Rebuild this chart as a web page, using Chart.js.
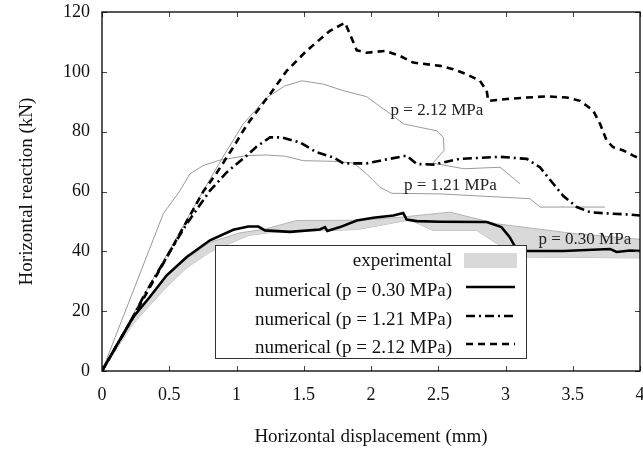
<!DOCTYPE html>
<html>
<head>
<meta charset="utf-8">
<script src="https://cdn.jsdelivr.net/npm/chart.js@4.4.1/dist/chart.umd.min.js"></script>
<style>
  html, body { margin: 0; padding: 0; background: #fff; }
</style>
</head>
<body>
<canvas id="myChart" width="643" height="457"></canvas>
<script>
// Horizontal displacement (mm) vs horizontal reaction (kN), [x, y] pairs
const num030 = [[0, 0], [0.1, 7.9], [0.233, 18.1], [0.357, 24.8], [0.481, 32], [0.63, 38.1], [0.803, 43.7],
    [0.976, 47.2], [1.088, 48.3], [1.162, 48.3], [1.212, 47], [1.398, 46.5], [1.62, 47.3], [1.658, 48.1],
    [1.675, 46.8], [1.77, 48.1], [1.894, 50.3], [2.017, 51.2], [2.166, 52], [2.24, 52.8], [2.265, 50.6],
    [2.34, 50.1], [2.513, 49.9], [2.86, 49.8], [2.97, 48.1], [3.03, 44.8], [3.08, 40.9], [3.13, 40.1],
    [3.43, 40.1], [3.777, 40.8], [3.826, 39.8], [3.926, 40.3], [4, 40.1]];

const num121 = [[0, 0], [0.233, 18.1], [0.307, 24.8], [0.481, 38.1], [0.63, 49.2], [0.803, 60.3], [0.927, 66.4],
    [1.076, 72], [1.15, 75], [1.249, 78.1], [1.336, 78.1], [1.472, 76.4], [1.596, 73.1], [1.72, 71.4],
    [1.794, 69.4], [1.968, 69.4], [2.067, 70.3], [2.265, 72], [2.34, 69.2], [2.463, 69], [2.66, 70.9],
    [2.96, 71.6], [3.158, 70.9], [3.256, 68.1], [3.355, 62.6], [3.43, 58.5], [3.53, 54.8], [3.628, 53.1],
    [3.777, 52.6], [3.926, 52.3], [4, 52]];

const num212 = [[0, 0], [0.25, 19.5], [0.5, 39.5], [0.753, 60], [0.85, 66], [0.976, 74.8], [1.05, 80.3],
    [1.1, 83.7], [1.25, 92.6], [1.373, 100.3], [1.52, 107], [1.695, 113.7], [1.807, 116.4], [1.894, 107.2],
    [1.968, 106.4], [2.104, 107], [2.216, 105.3], [2.313, 103.1], [2.513, 102], [2.61, 100.9], [2.71, 99.2],
    [2.81, 97], [2.86, 93.7], [2.872, 90.3], [3.009, 90.9], [3.158, 91.4], [3.306, 91.8], [3.455, 91.4],
    [3.554, 90.3], [3.653, 87], [3.703, 82.6], [3.752, 77], [3.8, 74.8], [3.876, 73.7], [3.95, 72], [4, 71]];

// experimental curves (grey)
const exp121 = [[0, 0], [0.456, 52.6], [0.58, 60.3], [0.654, 65.9], [0.753, 68.7], [0.877, 70.5], [1.076, 72],
    [1.225, 72.2], [1.36, 71.8], [1.497, 70.3], [1.72, 70.1], [1.87, 69.5], [1.968, 65.9], [2.067, 61.4],
    [2.154, 59.4], [2.513, 59.2], [3.182, 57.6], [3.257, 54.8], [3.74, 54.8]];

const exp212 = [[0, 0], [0.283, 23.2], [0.753, 60.3], [0.914, 72.6], [1.05, 82.6], [1.225, 91.4], [1.36, 95.3],
    [1.485, 97], [1.645, 95.9], [1.794, 93.7], [1.968, 91.7], [2.067, 88.4], [2.166, 85.3], [2.24, 82.6],
    [2.488, 80.3], [2.538, 78.1], [2.543, 73.7], [2.46, 69.5], [2.69, 67.6], [2.96, 68.1], [3.108, 62.6]];

// experimental scatter band for p = 0.30 MPa
const exp030Upper = [[0, 0], [0.233, 17.8], [0.481, 31.5], [0.63, 37.5], [0.803, 43], [1.026, 46.2], [1.2, 47.3],
    [1.447, 50.3], [1.918, 50.4], [2.2, 51.3], [2.587, 53.1], [2.935, 49.2], [3.058, 48.5], [3.5, 46], [4, 44]];
const exp030Lower = [[0, 0], [0.233, 15.9], [0.481, 28.1], [0.63, 34.5], [0.803, 39.8], [1.088, 45.3],
    [1.274, 46.4], [1.9, 47.3], [2.29, 50.5], [2.46, 47], [2.786, 47], [2.935, 42.6], [3.03, 40.9],
    [3.158, 38.1], [4, 37.8]];

const xTicks = [0, 0.5, 1, 1.5, 2, 2.5, 3, 3.5, 4];
const yTicks = [0, 20, 40, 60, 80, 100, 120];

const legendLabels = ['experimental', 'numerical (p = 0.30 MPa)', 'numerical (p = 1.21 MPa)', 'numerical (p = 2.12 MPa)'];
const curveLabels = [
    { text: 'p = 2.12 MPa', x: 2.49, y: 87 },
    { text: 'p = 1.21 MPa', x: 2.59, y: 62 },
    { text: 'p = 0.30 MPa', x: 3.59, y: 44 }
];

const SERIF = "'Liberation Serif', 'Times New Roman', serif";
const toXY = arr => arr.map(p => ({ x: p[0], y: p[1] }));

const bandFill = '#d9d9d9';
const bandEdge = '#b4b4b4';
const expGrey = '#9a9a9a';

// frame with inward ticks, curve labels and the boxed legend
const framePlugin = {
    id: 'framePlugin',
    afterDatasetsDraw(chart) {
        const { ctx, chartArea: a, scales: { x, y } } = chart;
        ctx.save();

        // curve labels
        ctx.fillStyle = '#222';
        ctx.font = '17px ' + SERIF;
        ctx.textAlign = 'center';
        ctx.textBaseline = 'middle';
        curveLabels.forEach(l => ctx.fillText(l.text, x.getPixelForValue(l.x), y.getPixelForValue(l.y)));

        // legend box
        const box = { left: 215, top: 245, right: 526, bottom: 358 };
        ctx.fillStyle = '#fff';
        ctx.fillRect(box.left, box.top, box.right - box.left, box.bottom - box.top);
        ctx.strokeStyle = '#333';
        ctx.lineWidth = 1;
        ctx.strokeRect(box.left + 0.5, box.top + 0.5, box.right - box.left, box.bottom - box.top);

        const rows = [261, 291, 320, 348];
        const symL = 466, symR = 515;
        ctx.font = '19px ' + SERIF;
        ctx.textAlign = 'right';
        ctx.fillStyle = '#111';
        legendLabels.forEach((t, i) => ctx.fillText(t, 452, rows[i]));

        ctx.fillStyle = bandFill;
        ctx.fillRect(symL - 2, rows[0] - 8, symR - symL + 4, 15);

        const dsStyles = [chart.data.datasets[0], chart.data.datasets[1], chart.data.datasets[2]];
        dsStyles.forEach((ds, i) => {
            const yy = rows[i + 1] - 4;
            ctx.strokeStyle = '#000';
            ctx.lineWidth = ds.borderWidth;
            ctx.setLineDash(ds.borderDash || []);
            ctx.beginPath();
            ctx.moveTo(symL, yy);
            ctx.lineTo(symR, yy);
            ctx.stroke();
        });
        ctx.setLineDash([]);

        // inward ticks on all four sides
        ctx.strokeStyle = '#444';
        ctx.lineWidth = 1;
        ctx.beginPath();
        xTicks.forEach(v => {
            const px = Math.round(x.getPixelForValue(v)) + 0.5;
            ctx.moveTo(px, a.bottom); ctx.lineTo(px, a.bottom - 5);
            ctx.moveTo(px, a.top); ctx.lineTo(px, a.top + 5);
        });
        yTicks.forEach(v => {
            const py = Math.round(y.getPixelForValue(v)) + 0.5;
            ctx.moveTo(a.left, py); ctx.lineTo(a.left + 5, py);
            ctx.moveTo(a.right, py); ctx.lineTo(a.right - 5, py);
        });
        ctx.stroke();

        // plot frame
        ctx.strokeStyle = '#000';
        ctx.lineWidth = 1.3;
        ctx.strokeRect(a.left, a.top, a.right - a.left, a.bottom - a.top);
        ctx.restore();
    }
};

const ctx = document.getElementById('myChart').getContext('2d');

const myChart = new Chart(ctx, {
    type: 'line',
    data: {
        datasets: [
            { label: 'numerical (p = 0.30 MPa)', data: toXY(num030), borderColor: '#000', borderWidth: 2.6 },
            { label: 'numerical (p = 1.21 MPa)', data: toXY(num121), borderColor: '#000', borderWidth: 2.6, borderDash: [9, 4, 2, 4] },
            { label: 'numerical (p = 2.12 MPa)', data: toXY(num212), borderColor: '#000', borderWidth: 2.6, borderDash: [7, 5] },
            { label: 'exp 2.12', data: toXY(exp212), borderColor: expGrey, borderWidth: 1 },
            { label: 'exp 1.21', data: toXY(exp121), borderColor: expGrey, borderWidth: 1 },
            { label: 'experimental', data: toXY(exp030Upper), borderColor: bandEdge, borderWidth: 1, backgroundColor: bandFill, fill: '+1' },
            { label: 'exp 0.30 lower', data: toXY(exp030Lower), borderColor: bandEdge, borderWidth: 1 }
        ]
    },
    options: {
        responsive: false,
        animation: false,
        elements: { point: { radius: 0 }, line: { tension: 0 } },
        layout: { padding: { left: 0, top: 12, right: 3, bottom: 0 } },
        plugins: {
            legend: { display: false },
            tooltip: { enabled: false }
        },
        scales: {
            x: {
                type: 'linear',
                min: 0,
                max: 4,
                afterFit: scale => {
                    scale.height = 86;
                    scale.paddingLeft = 0;
                    scale.paddingRight = 0;
                },
                afterBuildTicks: scale => { scale.ticks = xTicks.map(v => ({ value: v })); },
                ticks: {
                    color: '#111',
                    font: { family: SERIF, size: 18 },
                    padding: 13,
                    maxRotation: 0,
                    callback: v => String(v)
                },
                grid: { display: false, drawTicks: false },
                border: { display: false },
                title: {
                    display: true,
                    text: 'Horizontal displacement (mm)',
                    color: '#111',
                    font: { family: SERIF, size: 19 },
                    padding: { top: 0, bottom: 9 }
                }
            },
            y: {
                min: 0,
                max: 120,
                afterFit: scale => {
                    scale.width = 102;
                    scale.paddingTop = 0;
                    scale.paddingBottom = 0;
                },
                afterBuildTicks: scale => { scale.ticks = yTicks.map(v => ({ value: v })); },
                ticks: { color: '#111', font: { family: SERIF, size: 18 }, padding: 12, callback: v => String(v) },
                grid: { display: false, drawTicks: false },
                border: { display: false },
                title: {
                    display: true,
                    text: 'Horizontal reaction (kN)',
                    color: '#111',
                    font: { family: SERIF, size: 19 },
                    padding: { top: 16, bottom: 0 }
                }
            }
        }
    },
    plugins: [framePlugin]
});
</script>
</body>
</html>
